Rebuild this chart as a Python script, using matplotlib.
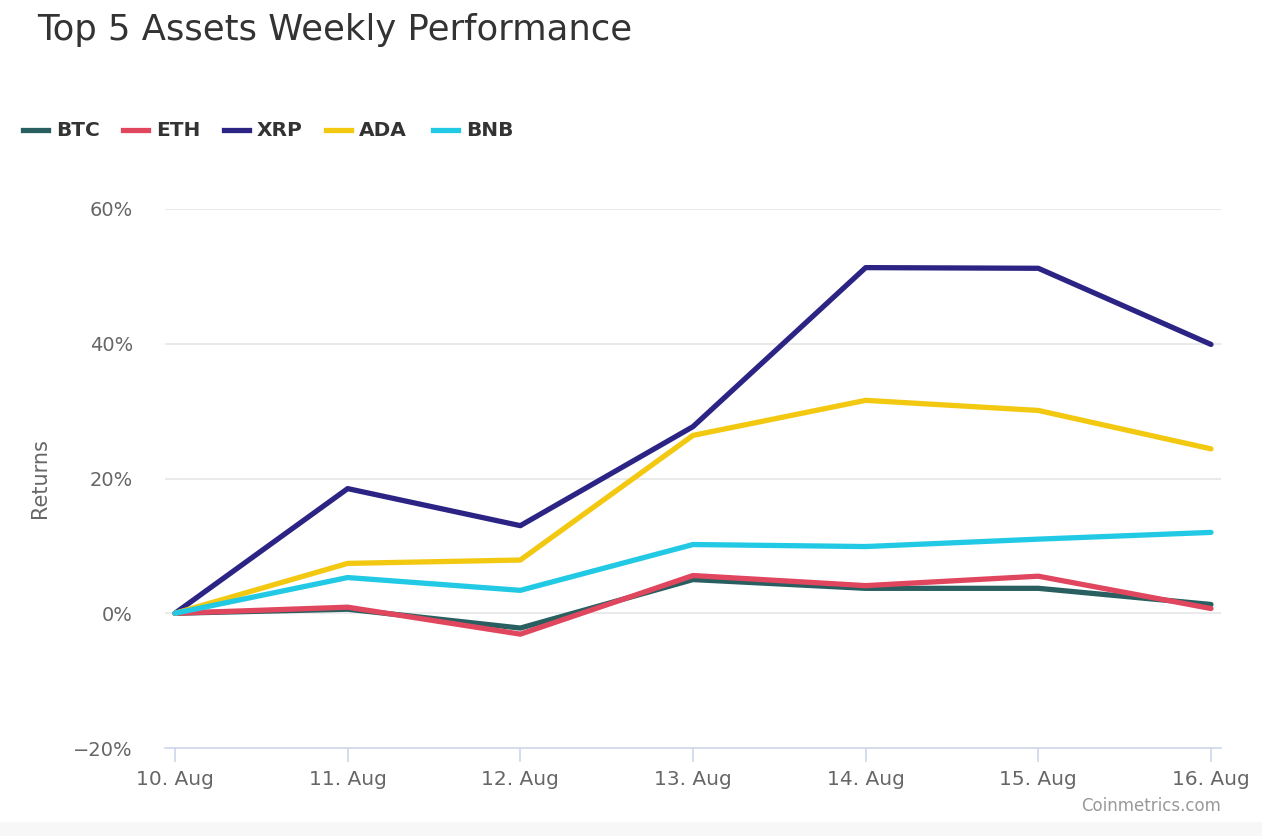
import matplotlib
matplotlib.use("Agg")
import matplotlib.pyplot as plt
from matplotlib.lines import Line2D
from matplotlib.patches import Rectangle

days = ["10. Aug", "11. Aug", "12. Aug", "13. Aug", "14. Aug", "15. Aug", "16. Aug"]
btc = [0.0, 0.6, -2.2, 5.0, 3.7, 3.7, 1.3]
eth = [0.0, 0.9, -3.1, 5.6, 4.1, 5.5, 0.7]
xrp = [0.0, 18.5, 13.0, 27.7, 51.3, 51.2, 39.9]
ada = [0.0, 7.4, 7.9, 26.4, 31.6, 30.1, 24.4]
bnb = [0.0, 5.3, 3.4, 10.2, 9.9, 11.0, 12.0]

names = ["BTC", "ETH", "XRP", "ADA", "BNB"]
colors = ["#295f60", "#e0475f", "#2b2484", "#f2c811", "#22c9e4"]
series = [btc, eth, xrp, ada, bnb]
yticks = [-20, 0, 20, 40, 60]

plt.rcParams["font.family"] = ["DejaVu Sans"]

W, H = 1262, 836
fig = plt.figure(figsize=(W / 100, H / 100), dpi=100)
fig.patch.set_facecolor("white")
# faint bottom strip
fig.patches.append(Rectangle((0, 0), 1, 14 / H, transform=fig.transFigure,
                             facecolor="#f7f7f7", edgecolor="none", zorder=0))

ax = fig.add_axes([165 / W, 1 - 748 / H, (1221 - 165) / W, (748 - 209) / H])
x = list(range(len(days)))
for vals, name, c in zip(series, names, colors):
    ax.plot(x, vals, color=c, linewidth=3.8, solid_capstyle="round",
            solid_joinstyle="round", label=name, clip_on=False)

ax.set_xlim(-0.058, 6.058)
ax.set_ylim(-20, 60)
ax.set_yticks(yticks)
ax.set_yticklabels([f"{v}%".replace("-", "\u2212") for v in yticks],
                   fontsize=14, color="#666666")
ax.set_xticks(x)
ax.set_xticklabels(days, fontsize=14.5, color="#666666")
ax.tick_params(axis="y", length=0, pad=23)
ax.tick_params(axis="x", length=10, width=1.2, color="#ccd6eb", pad=6)
for v in yticks[1:]:
    ax.axhline(v, color="#e6e6e6", linewidth=1.2, zorder=0)
for s in ["top", "right", "left"]:
    ax.spines[s].set_visible(False)
ax.spines["bottom"].set_color("#ccd6eb")
ax.spines["bottom"].set_linewidth(1.2)
ax.set_ylabel("Returns", fontsize=15, color="#666666")
ax.yaxis.set_label_coords(40 / W, 1 - 478 / H, transform=fig.transFigure)
ax.yaxis.label.set_verticalalignment("center")

fig.text(37 / W, 1 - 30 / H, "Top 5 Assets Weekly Performance", fontsize=25.5,
         color="#333333", va="center", ha="left")

# legend row
hx = [23, 123, 224, 326, 433]
ly = 1 - 130 / H
for h, name, c in zip(hx, names, colors):
    fig.add_artist(Line2D([h / W, (h + 25) / W], [ly, ly], color=c, linewidth=3.8,
                          transform=fig.transFigure))
    fig.text((h + 33) / W, ly, name, fontsize=14.5, fontweight="bold",
             color="#333333", va="center", ha="left")

fig.text(1221 / W, 1 - 806 / H, "Coinmetrics.com", fontsize=12,
         color="#999999", ha="right", va="center")

fig.savefig("out.png", dpi=100)
